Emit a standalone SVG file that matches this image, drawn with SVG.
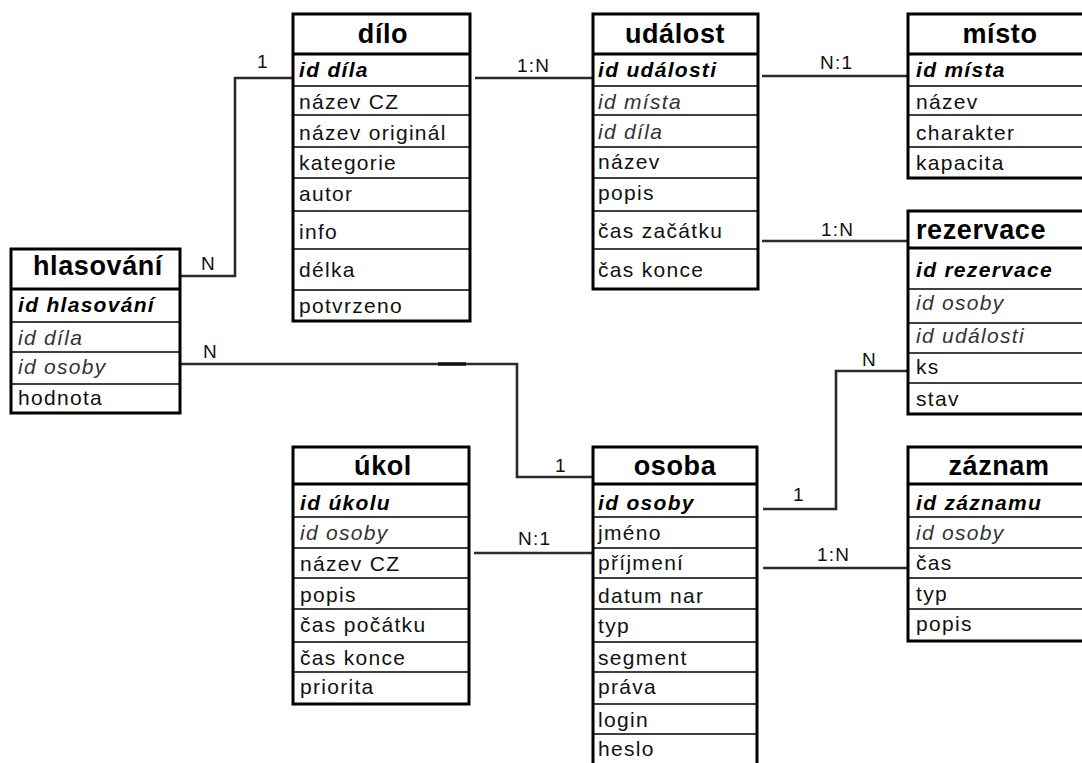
<svg xmlns="http://www.w3.org/2000/svg" width="1082" height="763" viewBox="0 0 1082 763">
<style>
.box{fill:#fff;stroke:#000;stroke-width:3}
.hd{stroke:#000;stroke-width:3}
.sep{stroke:#000;stroke-width:1.6}
.h{font-family:"Liberation Sans",Arial,sans-serif;font-size:27px;font-weight:bold;fill:#000;text-anchor:middle;letter-spacing:0.6px}
.t{font-family:"Liberation Sans",Arial,sans-serif;font-size:21px;fill:#111;letter-spacing:1.3px}
.pk{font-weight:bold;font-style:italic;fill:#000}
.fk{font-style:italic;fill:#333}
.c{fill:none;stroke:#2a2a2a;stroke-width:2.6}
.l{font-family:"Liberation Sans",Arial,sans-serif;font-size:19px;fill:#111;letter-spacing:1.2px}
</style>
<rect width="1082" height="763" fill="#fff"/>
<g id="connectors">
<path class="c" d="M181,276 H235 V78 H292"/>
<path class="c" d="M475,78 H592"/>
<path class="c" d="M762,76 H907"/>
<path class="c" d="M762,241 H907"/>
<path class="c" d="M181,364 H517 V477 H593"/>
<path d="M438,364 H466" stroke="#111" stroke-width="3.5"/>
<path class="c" d="M474,553 H593"/>
<path class="c" d="M763,509 H836 V371 H907"/>
<path class="c" d="M763,568 H907"/>
<text class="l" x="257" y="68">1</text>
<text class="l" x="201" y="270">N</text>
<text class="l" x="517" y="72">1:N</text>
<text class="l" x="820" y="69">N:1</text>
<text class="l" x="821" y="236">1:N</text>
<text class="l" x="203" y="358">N</text>
<text class="l" x="555" y="472">1</text>
<text class="l" x="518" y="545">N:1</text>
<text class="l" x="793" y="501">1</text>
<text class="l" x="862" y="366">N</text>
<text class="l" x="817" y="561">1:N</text>
</g>
<g id="dilo">
<rect class="box" x="293" y="14" width="177" height="307"/>
<line class="hd" x1="293" y1="54" x2="470" y2="54"/>
<line class="sep" x1="293" y1="86" x2="470" y2="86"/>
<line class="sep" x1="293" y1="115" x2="470" y2="115"/>
<line class="sep" x1="293" y1="147" x2="470" y2="147"/>
<line class="sep" x1="293" y1="178" x2="470" y2="178"/>
<line class="sep" x1="293" y1="211" x2="470" y2="211"/>
<line class="sep" x1="293" y1="249" x2="470" y2="249"/>
<line class="sep" x1="293" y1="290" x2="470" y2="290"/>
<text class="h" x="383" y="43">dílo</text>
<text class="t pk" x="299" y="77">id díla</text>
<text class="t" x="299" y="109">název CZ</text>
<text class="t" x="299" y="140">název originál</text>
<text class="t" x="299" y="170">kategorie</text>
<text class="t" x="299" y="201">autor</text>
<text class="t" x="299" y="239">info</text>
<text class="t" x="299" y="277">délka</text>
<text class="t" x="299" y="313">potvrzeno</text>
</g>
<g id="udalost">
<rect class="box" x="593" y="14" width="165" height="275"/>
<line class="hd" x1="593" y1="54" x2="758" y2="54"/>
<line class="sep" x1="593" y1="86" x2="758" y2="86"/>
<line class="sep" x1="593" y1="115" x2="758" y2="115"/>
<line class="sep" x1="593" y1="147" x2="758" y2="147"/>
<line class="sep" x1="593" y1="178" x2="758" y2="178"/>
<line class="sep" x1="593" y1="211" x2="758" y2="211"/>
<line class="sep" x1="593" y1="249" x2="758" y2="249"/>
<text class="h" x="675" y="43">událost</text>
<text class="t pk" x="598" y="77">id události</text>
<text class="t fk" x="598" y="109">id místa</text>
<text class="t fk" x="598" y="139">id díla</text>
<text class="t" x="598" y="169">název</text>
<text class="t" x="598" y="200">popis</text>
<text class="t" x="598" y="238">čas začátku</text>
<text class="t" x="598" y="277">čas konce</text>
</g>
<g id="misto">
<rect class="box" x="908" y="14" width="185" height="164"/>
<line class="hd" x1="908" y1="54" x2="1093" y2="54"/>
<line class="sep" x1="908" y1="86" x2="1093" y2="86"/>
<line class="sep" x1="908" y1="115" x2="1093" y2="115"/>
<line class="sep" x1="908" y1="147" x2="1093" y2="147"/>
<text class="h" x="1000" y="43">místo</text>
<text class="t pk" x="916" y="77">id místa</text>
<text class="t" x="916" y="109">název</text>
<text class="t" x="916" y="140">charakter</text>
<text class="t" x="916" y="170">kapacita</text>
</g>
<g id="rezervace">
<rect class="box" x="908" y="211" width="185" height="203"/>
<line class="hd" x1="908" y1="248" x2="1093" y2="248"/>
<line class="sep" x1="908" y1="289" x2="1093" y2="289"/>
<line class="sep" x1="908" y1="323" x2="1093" y2="323"/>
<line class="sep" x1="908" y1="353" x2="1093" y2="353"/>
<line class="sep" x1="908" y1="383" x2="1093" y2="383"/>
<text class="h" x="916" y="239" style="text-anchor:start">rezervace</text>
<text class="t pk" x="916" y="277">id rezervace</text>
<text class="t fk" x="916" y="310">id osoby</text>
<text class="t fk" x="916" y="343">id události</text>
<text class="t" x="916" y="374">ks</text>
<text class="t" x="916" y="406">stav</text>
</g>
<g id="hlasovani">
<rect class="box" x="11" y="249" width="169" height="164"/>
<line class="hd" x1="11" y1="289" x2="180" y2="289"/>
<line class="sep" x1="11" y1="322" x2="180" y2="322"/>
<line class="sep" x1="11" y1="352" x2="180" y2="352"/>
<line class="sep" x1="11" y1="384" x2="180" y2="384"/>
<text class="h" x="98" y="275">hlasování</text>
<text class="t pk" x="18" y="312">id hlasování</text>
<text class="t fk" x="18" y="345">id díla</text>
<text class="t fk" x="18" y="374">id osoby</text>
<text class="t" x="18" y="405">hodnota</text>
</g>
<g id="ukol">
<rect class="box" x="293" y="447" width="176" height="257"/>
<line class="hd" x1="293" y1="484" x2="469" y2="484"/>
<line class="sep" x1="293" y1="517" x2="469" y2="517"/>
<line class="sep" x1="293" y1="548" x2="469" y2="548"/>
<line class="sep" x1="293" y1="578" x2="469" y2="578"/>
<line class="sep" x1="293" y1="609" x2="469" y2="609"/>
<line class="sep" x1="293" y1="642" x2="469" y2="642"/>
<line class="sep" x1="293" y1="672" x2="469" y2="672"/>
<text class="h" x="383" y="475">úkol</text>
<text class="t pk" x="300" y="510">id úkolu</text>
<text class="t fk" x="300" y="540">id osoby</text>
<text class="t" x="300" y="571">název CZ</text>
<text class="t" x="300" y="602">popis</text>
<text class="t" x="300" y="632">čas počátku</text>
<text class="t" x="300" y="665">čas konce</text>
<text class="t" x="300" y="694">priorita</text>
</g>
<g id="osoba">
<rect class="box" x="593" y="447" width="164" height="330"/>
<line class="hd" x1="593" y1="484" x2="757" y2="484"/>
<line class="sep" x1="593" y1="517" x2="757" y2="517"/>
<line class="sep" x1="593" y1="548" x2="757" y2="548"/>
<line class="sep" x1="593" y1="578" x2="757" y2="578"/>
<line class="sep" x1="593" y1="609" x2="757" y2="609"/>
<line class="sep" x1="593" y1="642" x2="757" y2="642"/>
<line class="sep" x1="593" y1="672" x2="757" y2="672"/>
<line class="sep" x1="593" y1="704" x2="757" y2="704"/>
<line class="sep" x1="593" y1="734" x2="757" y2="734"/>
<text class="h" x="675" y="475">osoba</text>
<text class="t pk" x="598" y="510">id osoby</text>
<text class="t" x="598" y="540">jméno</text>
<text class="t" x="598" y="570">příjmení</text>
<text class="t" x="598" y="603">datum nar</text>
<text class="t" x="598" y="633">typ</text>
<text class="t" x="598" y="665">segment</text>
<text class="t" x="598" y="694">práva</text>
<text class="t" x="598" y="727">login</text>
<text class="t" x="598" y="756">heslo</text>
</g>
<g id="zaznam">
<rect class="box" x="908" y="447" width="185" height="194"/>
<line class="hd" x1="908" y1="484" x2="1093" y2="484"/>
<line class="sep" x1="908" y1="517" x2="1093" y2="517"/>
<line class="sep" x1="908" y1="548" x2="1093" y2="548"/>
<line class="sep" x1="908" y1="578" x2="1093" y2="578"/>
<line class="sep" x1="908" y1="609" x2="1093" y2="609"/>
<text class="h" x="999" y="475">záznam</text>
<text class="t pk" x="916" y="510">id záznamu</text>
<text class="t fk" x="916" y="540">id osoby</text>
<text class="t" x="916" y="570">čas</text>
<text class="t" x="916" y="601">typ</text>
<text class="t" x="916" y="631">popis</text>
</g>
</svg>
